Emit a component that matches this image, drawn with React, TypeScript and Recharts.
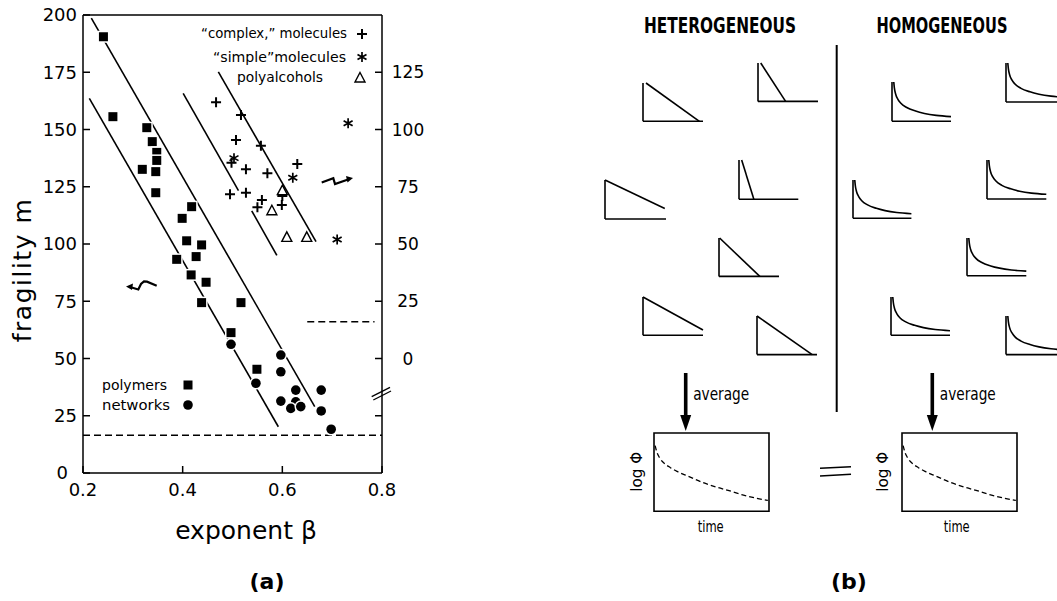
import React from 'react';
import {
  ScatterChart, Scatter, XAxis, YAxis, ReferenceLine, ReferenceArea, LineChart, Line,
} from 'recharts';

// ---------- panel (a): fragility m vs stretching exponent beta ----------
const betaTicks = [0.2, 0.4, 0.6, 0.8];
const mTicks = [0, 25, 50, 75, 100, 125, 150, 175, 200];
const rightTicks = [-25, 0, 25, 50, 75, 100, 125];

const polymers = [
  [0.241, 190.5], [0.26, 155.6], [0.328, 150.8], [0.339, 144.7], [0.319, 132.6],
  [0.348, 140], [0.348, 136.5], [0.346, 131.6], [0.346, 122.4], [0.418, 116.3],
  [0.399, 111.2], [0.408, 101.4], [0.427, 94.5], [0.388, 93.3], [0.438, 99.6],
  [0.417, 86.5], [0.447, 83.3], [0.438, 74.4], [0.517, 74.4], [0.497, 61.3], [0.549, 45.3],
];
const networks = [
  [0.497, 56.2], [0.547, 39.2], [0.597, 51.5], [0.597, 44.2], [0.597, 31.4], [0.627, 36.2],
  [0.627, 31.1], [0.617, 28.2], [0.637, 29], [0.678, 36.2], [0.678, 27.1], [0.698, 19.1],
];
const complexMol = [
  [0.467, 161.9], [0.517, 156.3], [0.507, 145.4], [0.557, 142.9], [0.498, 135.5],
  [0.527, 132.6], [0.57, 130.9], [0.63, 134.9], [0.495, 121.7], [0.527, 122.4],
  [0.559, 119.2], [0.55, 116], [0.599, 117], [0.6, 121],
];
const simpleMol = [[0.732, 152.7], [0.621, 128.9], [0.503, 137.5], [0.71, 102]];
const polyalcohols = [[0.6, 123.3], [0.579, 114.5], [0.609, 102.9], [0.649, 102.9]];

// solid guide lines [beta1, m1, beta2, m2]
const fitLines = [
  [0.2167, 198.6, 0.665, 29.0],
  [0.2127, 163.6, 0.592, 20.2],
  [0.401, 165.8, 0.512, 123.3],
  [0.4716, 175.2, 0.6676, 101],
  [0.5386, 114.5, 0.589, 95],
];
// dashed limits [beta1, beta2, m]
const limitLines = [
  [0.2, 0.8, 16.5],
  [0.65, 0.785, 66],
];

// ---------- panel (b): relaxation sketches ----------
const hetBoxes = [
  { x: 643.3, y: 83.3, w: 60, h: 38.3 },
  { x: 758.3, y: 63.3, w: 60, h: 38.4 },
  { x: 605, y: 180, w: 61, h: 39 },
  { x: 739, y: 160, w: 59.3, h: 39.3 },
  { x: 719.3, y: 238.3, w: 60, h: 38.4 },
  { x: 643.3, y: 296.7, w: 60, h: 38.3 },
  { x: 757.3, y: 315.7, w: 60, h: 38.6 },
];
const hetDecays = [
  [{ t: 0.05, y: 1 }, { t: 0.94, y: 0 }],
  [{ t: 0.045, y: 1 }, { t: 0.46, y: 0 }],
  [{ t: 0, y: 1 }, { t: 0.98, y: 0.27 }],
  [{ t: 0.045, y: 1 }, { t: 0.25, y: 0 }],
  [{ t: 0.01, y: 1 }, { t: 0.68, y: 0 }],
  [{ t: 0, y: 1 }, { t: 1, y: 0.14 }],
  [{ t: 0, y: 1 }, { t: 0.92, y: 0 }],
];
const homBoxes = [
  { x: 891.7, y: 81.7, w: 59, h: 39.3 },
  { x: 1005.7, y: 62.7, w: 60, h: 39 },
  { x: 853.3, y: 180, w: 58.4, h: 38.3 },
  { x: 986.7, y: 160, w: 59.3, h: 39 },
  { x: 966.7, y: 238.3, w: 59.3, h: 37.7 },
  { x: 891, y: 296.7, w: 59, h: 38.3 },
  { x: 1005.7, y: 315.7, w: 60, h: 38.6 },
];
const stretchedDecay = [
  { t: 0.03, y: 1.0 }, { t: 0.04, y: 0.85 }, { t: 0.06, y: 0.7 }, { t: 0.1, y: 0.56 },
  { t: 0.15, y: 0.46 }, { t: 0.25, y: 0.35 }, { t: 0.4, y: 0.26 }, { t: 0.55, y: 0.2 },
  { t: 0.75, y: 0.15 }, { t: 1.0, y: 0.12 },
];
const averageBoxes = [
  { x: 654.3, y: 432.7, w: 115, h: 78.3 },
  { x: 901.7, y: 432.7, w: 115, h: 78.3 },
];
const averageDecay = [
  { t: 0.01, y: 0.84 }, { t: 0.02, y: 0.78 }, { t: 0.05, y: 0.68 }, { t: 0.1, y: 0.6 },
  { t: 0.14, y: 0.56 }, { t: 0.2, y: 0.51 }, { t: 0.31, y: 0.44 }, { t: 0.42, y: 0.37 },
  { t: 0.54, y: 0.31 }, { t: 0.66, y: 0.26 }, { t: 0.77, y: 0.21 }, { t: 0.88, y: 0.17 },
  { t: 0.99, y: 0.14 },
];

const FONT = '"DejaVu Sans", Verdana, sans-serif';
const COND = '"DejaVu Sans Condensed", "Liberation Sans Narrow", "DejaVu Sans", sans-serif';
const TICK_LINE = { stroke: '#000', strokeWidth: 1.5 };

const toPts = (arr: number[][]) => arr.map(([beta, m]) => ({ beta, m }));

const SquareMark = ({ cx, cy }: any) => (
  <rect x={cx - 4.5} y={cy - 4.5} width={9} height={9} fill="#000" stroke="#fff" strokeWidth={3} paintOrder="stroke" />
);
const CircleMark = ({ cx, cy }: any) => (
  <circle cx={cx} cy={cy} r={4.8} fill="#000" stroke="#fff" strokeWidth={3} paintOrder="stroke" />
);
const PlusMark = ({ cx, cy }: any) => (
  <path d={`M${cx - 5},${cy}H${cx + 5}M${cx},${cy - 5}V${cy + 5}`} stroke="#000" strokeWidth={2} fill="none" />
);
const StarMark = ({ cx, cy }: any) => (
  <path
    d={`M${cx},${cy - 5}V${cy + 5}M${cx - 4.5},${cy - 2.5}L${cx + 4.5},${cy + 2.5}M${cx - 4.5},${cy + 2.5}L${cx + 4.5},${cy - 2.5}`}
    stroke="#000" strokeWidth={1.7} fill="none"
  />
);
const TriMark = ({ cx, cy }: any) => (
  <path d={`M${cx},${cy - 5.5}L${cx + 5},${cy + 4}L${cx - 5},${cy + 4}Z`} stroke="#000" strokeWidth={1.4} fill="#fff" />
);

const LeftTick = ({ x, y, payload }: any) => (
  <text x={x + (payload.value === 0 ? -9 : 0)} y={y} dy="0.36em" textAnchor="end" fontSize={18} fontFamily={FONT} fill="#000">
    {payload.value}
  </text>
);
// right-hand scale labels sit centred a little outside the frame
const RightTick = ({ y, payload }: any) =>
  payload.value < 0 ? null : (
    <text x={408} y={y} dy="0.36em" textAnchor="middle" fontSize={17} fontFamily={FONT} fill="#000">
      {payload.value}
    </text>
  );

function MiniPlot({ box, data, curve, framed, dashed }: any) {
  const pad = 3;
  return (
    <div style={{ position: 'absolute', left: box.x - pad, top: box.y - pad }}>
      <LineChart width={box.w + 2 * pad} height={box.h + 2 * pad} data={data} margin={{ top: pad, right: pad, bottom: pad, left: pad }}>
        <XAxis type="number" dataKey="t" domain={[0, 1]} hide />
        <YAxis type="number" domain={[0, 1]} hide />
        {framed ? (
          <ReferenceArea x1={0} x2={1} y1={0} y2={1} fill="none" stroke="#000" strokeWidth={1.6} ifOverflow="visible" />
        ) : null}
        {!framed ? <ReferenceLine x={0} stroke="#000" strokeWidth={1.6} ifOverflow="visible" /> : null}
        {!framed ? <ReferenceLine y={0} stroke="#000" strokeWidth={1.6} ifOverflow="visible" /> : null}
        <Line
          dataKey="y"
          type={curve}
          stroke="#000"
          strokeWidth={dashed ? 1.3 : 1.6}
          strokeDasharray={dashed ? '5 3' : undefined}
          dot={false}
          isAnimationActive={false}
        />
      </LineChart>
    </div>
  );
}

export default function App() {
  return (
    <div style={{ position: 'absolute', left: 0, top: 0, width: 1057, height: 601, overflow: 'hidden', background: '#fff' }}>
      <div style={{ position: 'absolute', left: 0, top: 0 }}>
        <ScatterChart width={430} height={510} margin={{ top: 5, right: 0, bottom: 7, left: 0 }}>
          <XAxis
            xAxisId="bottom" type="number" dataKey="beta" domain={[0.2, 0.8]} ticks={betaTicks}
            allowDataOverflow height={30} tickSize={-7} tickMargin={17}
            tickFormatter={(v: number) => v.toFixed(1)}
            stroke="#000" strokeWidth={1.5} tickLine={TICK_LINE}
            tick={{ fontSize: 18, fontFamily: FONT, fill: '#000' }}
          />
          <XAxis
            xAxisId="top" orientation="top" type="number" dataKey="beta" domain={[0.2, 0.8]}
            ticks={[0.4, 0.6]} allowDataOverflow height={10} tickSize={-7} tick={false}
            stroke="#000" strokeWidth={1.5} tickLine={TICK_LINE}
          />
          <YAxis
            yAxisId="left" type="number" dataKey="m" domain={[0, 200]} ticks={mTicks}
            allowDataOverflow width={83} tickSize={-7} tickMargin={13}
            stroke="#000" strokeWidth={1.5} tickLine={TICK_LINE} tick={<LeftTick />}
          />
          <YAxis
            yAxisId="right" orientation="right" type="number" dataKey="m" domain={[-50, 150]}
            ticks={rightTicks} allowDataOverflow width={48} tickSize={-7}
            stroke="#000" strokeWidth={1.5} tickLine={TICK_LINE} tick={<RightTick />}
          />
          {limitLines.map(([b1, b2, m], i) => (
            <ReferenceLine
              key={`lim-${i}`} xAxisId="bottom" yAxisId="left"
              segment={[{ x: b1, y: m }, { x: b2, y: m }]}
              stroke="#000" strokeWidth={1.5} strokeDasharray="7 4" ifOverflow="visible"
            />
          ))}
          {fitLines.map(([b1, m1, b2, m2], i) => (
            <ReferenceLine
              key={`fit-${i}`} xAxisId="bottom" yAxisId="left"
              segment={[{ x: b1, y: m1 }, { x: b2, y: m2 }]}
              stroke="#000" strokeWidth={1.6} ifOverflow="visible"
            />
          ))}
          <Scatter name="polymers" data={toPts(polymers)} xAxisId="bottom" yAxisId="left" shape={SquareMark} isAnimationActive={false} />
          <Scatter name="networks" data={toPts(networks)} xAxisId="bottom" yAxisId="left" shape={CircleMark} isAnimationActive={false} />
          <Scatter name="complex" data={toPts(complexMol)} xAxisId="bottom" yAxisId="left" shape={PlusMark} isAnimationActive={false} />
          <Scatter name="simple" data={toPts(simpleMol)} xAxisId="bottom" yAxisId="left" shape={StarMark} isAnimationActive={false} />
          <Scatter name="polyalcohols" data={toPts(polyalcohols)} xAxisId="bottom" yAxisId="left" shape={TriMark} isAnimationActive={false} />
        </ScatterChart>
      </div>

      {hetBoxes.map((box, i) => (
        <MiniPlot key={`het-${i}`} box={box} data={hetDecays[i]} curve="linear" />
      ))}
      {homBoxes.map((box, i) => (
        <MiniPlot key={`hom-${i}`} box={box} data={stretchedDecay} curve="monotone" />
      ))}
      {averageBoxes.map((box, i) => (
        <MiniPlot key={`avg-${i}`} box={box} data={averageDecay} curve="monotone" framed dashed />
      ))}

      {/* labels, legend and annotations */}
      <svg width={1057} height={601} style={{ position: 'absolute', left: 0, top: 0, pointerEvents: 'none' }}>
        <text x={22} y={270} transform="rotate(-90 22 270)" textAnchor="middle" dominantBaseline="central"
          fontSize={25} fontFamily={FONT} letterSpacing={1.5}>fragility m</text>
        <text x={246} y={539} textAnchor="middle" fontSize={25} fontFamily={FONT}>exponent β</text>
        <text x={267} y={589} textAnchor="middle" fontSize={22} fontWeight="bold" fontFamily={FONT}>(a)</text>
        <text x={849} y={589} textAnchor="middle" fontSize={22} fontWeight="bold" fontFamily={FONT}>(b)</text>

        <text x={201} y={38} fontSize={14} fontFamily={FONT} textLength={146} lengthAdjust="spacingAndGlyphs">“complex,” molecules</text>
        <text x={213} y={62} fontSize={14} fontFamily={FONT} textLength={133} lengthAdjust="spacingAndGlyphs">“simple”molecules</text>
        <text x={237} y={82} fontSize={14} fontFamily={FONT} textLength={86} lengthAdjust="spacingAndGlyphs">polyalcohols</text>
        <PlusMark cx={362} cy={34} />
        <StarMark cx={362} cy={57} />
        <TriMark cx={360} cy={78} />
        <text x={102} y={390} fontSize={14} fontFamily={FONT} textLength={65} lengthAdjust="spacingAndGlyphs">polymers</text>
        <text x={102} y={410} fontSize={14} fontFamily={FONT} textLength={68} lengthAdjust="spacingAndGlyphs">networks</text>
        <SquareMark cx={188} cy={385} />
        <CircleMark cx={188} cy={405} />

        <path d="M130,287 L138.3,289.5 L141,284 L144,281.5 L147,281.7 L156.7,285.7" stroke="#000" strokeWidth={2.2} fill="none" />
        <path d="M126,286.5 L133,283.5 L132,290 Z" fill="#000" />
        <path d="M321.7,182.5 L333.3,178.3 L335,184 L348,179.5" stroke="#000" strokeWidth={2.2} fill="none" />
        <path d="M353,178 L346,176 L347.5,182.5 Z" fill="#000" />
        <line x1={371.7} y1={396.7} x2={390} y2={387.3} stroke="#000" strokeWidth={1.3} />
        <line x1={373.3} y1={400} x2={391} y2={391} stroke="#000" strokeWidth={1.3} />

        <text x={720} y={33} textAnchor="middle" fontSize={22} fontWeight="bold" fontFamily={COND} textLength={152} lengthAdjust="spacingAndGlyphs">HETEROGENEOUS</text>
        <text x={942} y={33} textAnchor="middle" fontSize={22} fontWeight="bold" fontFamily={COND} textLength={131} lengthAdjust="spacingAndGlyphs">HOMOGENEOUS</text>
        <line x1={836.7} y1={45} x2={836.7} y2={412} stroke="#000" strokeWidth={2} />

        {[685.7, 932.3].map((ax, i) => (
          <g key={`arr-${i}`}>
            <rect x={ax - 1.8} y={373} width={3.6} height={43} fill="#000" />
            <path d={`M${ax - 5.5},415 L${ax + 5.5},415 L${ax},431 Z`} fill="#000" />
            <text x={ax + 7.5} y={400} fontSize={17} fontFamily={COND} textLength={56} lengthAdjust="spacingAndGlyphs">average</text>
          </g>
        ))}
        {[636.7, 883.3].map((lx, i) => (
          <text key={`log-${i}`} x={lx} y={471.7} transform={`rotate(-90 ${lx} 471.7)`} textAnchor="middle"
            dominantBaseline="central" fontSize={15} fontFamily={COND} textLength={40} lengthAdjust="spacingAndGlyphs">log Φ</text>
        ))}
        {[710.7, 956.7].map((tx, i) => (
          <text key={`time-${i}`} x={tx} y={532} textAnchor="middle" fontSize={15} fontFamily={COND}
            textLength={26} lengthAdjust="spacingAndGlyphs">time</text>
        ))}
        <line x1={820} y1={468.3} x2={851} y2={466.7} stroke="#000" strokeWidth={1.5} />
        <line x1={820} y1={476} x2={851} y2={474.3} stroke="#000" strokeWidth={1.5} />
      </svg>
    </div>
  );
}
